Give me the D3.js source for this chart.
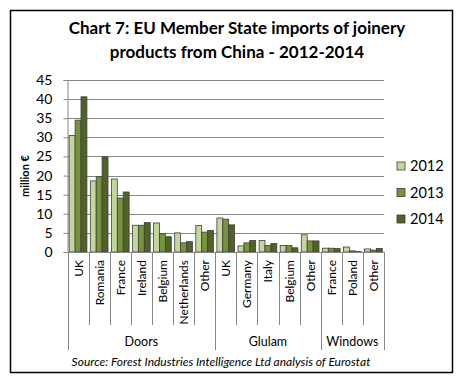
<!DOCTYPE html>
<html><head><meta charset="utf-8">
<script src="https://cdn.jsdelivr.net/npm/d3@7"></script>
<style>body{margin:0;background:#fff}svg{display:block}text{font-family:Lato,"Open Sans",sans-serif;fill:#000}</style>
</head><body>
<svg id="c" width="465" height="382"></svg>
<script>
const categories = ["UK","Romania","France","Ireland","Belgium","Netherlands","Other","UK","Germany","Italy","Belgium","Other","France","Poland","Other"];
const groups = [{name:"Doors",start:0,end:7},{name:"Glulam",start:7,end:12},{name:"Windows",start:12,end:15}];
const years = ["2012","2013","2014"];
const v2012 = [30.5,18.6,19.1,7.0,7.6,5.0,6.9,8.9,1.6,3.0,1.7,4.5,1.0,1.3,0.8];
const v2013 = [34.5,19.7,14.1,7.0,4.8,2.4,5.2,8.6,2.4,1.7,1.7,2.9,1.0,0.3,0.5];
const v2014 = [40.6,24.9,15.7,7.7,4.0,2.7,5.6,7.1,3.0,2.2,1.1,2.9,0.9,0.1,0.9];
const yTicks = [0,5,10,15,20,25,30,35,40,45];
const colors = ["#c3d69b","#77933c","#4f6228"];
const series = [v2012,v2013,v2014];

const svg = d3.select("#c");
svg.append("rect").attr("x",10.5).attr("y",10.5).attr("width",442).attr("height",362)
  .attr("fill","#fff").attr("stroke","#000").attr("stroke-width",1.5);

svg.append("text").attr("x",237).attr("y",34).attr("text-anchor","middle")
  .style("font-weight","bold").style("font-size","17px").text("Chart 7: EU Member State imports of joinery");
svg.append("text").attr("x",237).attr("y",58).attr("text-anchor","middle")
  .style("font-weight","bold").style("font-size","17px").text("products from China - 2012-2014");

const L=67.5,R=384,T=80,B=252;
const x = d3.scaleBand().domain(d3.range(categories.length)).range([L,R]).paddingInner(0.16).paddingOuter(0.08);
const step = (R-L)/categories.length;
const xs = d3.scaleBand().domain(years).range([0,x.bandwidth()]);
const y = d3.scaleLinear().domain([0,45]).range([B,T]);

// gridlines
svg.append("g").selectAll("line").data(yTicks.filter(d=>d>0)).join("line")
  .attr("x1",L).attr("x2",R).attr("y1",d=>Math.round(y(d))+0.5).attr("y2",d=>Math.round(y(d))+0.5)
  .attr("stroke","#868686").attr("stroke-width",1);

// y axis
const ya = svg.append("g").attr("transform",`translate(${L},0)`)
  .call(d3.axisLeft(y).tickValues(yTicks).tickSize(4).tickPadding(11));
ya.select(".domain").attr("stroke","#868686");
ya.selectAll(".tick line").attr("stroke","#868686");
ya.selectAll(".tick text").style("font-size","14px").style("font-family","Lato,sans-serif");

svg.append("text").attr("transform","translate(29,176) rotate(-90)").attr("text-anchor","middle")
  .style("font-weight","bold").style("font-size","11px").text("million €");

// bars
series.forEach((s,i)=>{
  svg.append("g").selectAll("rect").data(s).join("rect")
    .attr("x",(d,j)=>x(j)+xs(years[i]))
    .attr("y",d=>y(d)).attr("width",xs.bandwidth()).attr("height",d=>B-y(d))
    .attr("fill",colors[i]).attr("stroke","#3f3f3f").attr("stroke-width",0.8);
});

// x axis line
svg.append("line").attr("x1",L).attr("x2",R).attr("y1",B+0.5).attr("y2",B+0.5).attr("stroke","#868686");

// category separators
const sepG = svg.append("g");
for(let k=0;k<=categories.length;k++){
  const isGroup = groups.some(g=>g.start===k||g.end===k);
  const xx = Math.round(L+k*step)+0.5;
  sepG.append("line").attr("x1",xx).attr("x2",xx).attr("y1",B).attr("y2",isGroup?350:325)
    .attr("stroke","#868686");
}
// category labels
svg.append("g").selectAll("text").data(categories).join("text")
  .attr("transform",(d,j)=>`translate(${L+(j+0.5)*step+4.5},260) rotate(-90)`)
  .attr("text-anchor","end").style("font-size","12px").text(d=>d);

// group labels
svg.append("g").selectAll("text").data(groups).join("text")
  .attr("x",g=>L+(g.start+g.end)/2*step).attr("y",346).attr("text-anchor","middle")
  .style("font-size","12.5px").text(g=>g.name);

// source
svg.append("text").attr("x",221).attr("y",366).attr("text-anchor","middle")
  .style("font-style","italic").style("font-size","12px")
  .text("Source: Forest Industries Intelligence Ltd analysis of Eurostat");

// legend
const lg = svg.append("g").selectAll("g").data(years).join("g")
  .attr("transform",(d,i)=>`translate(397,${166+i*26.5})`);
lg.append("rect").attr("x",0).attr("y",-4).attr("width",8).attr("height",8)
  .attr("fill",(d,i)=>colors[i]).attr("stroke","#3f3f3f").attr("stroke-width",0.8);
lg.append("text").attr("x",13).attr("y",5).style("font-size","14.5px").text(d=>d);
</script>
</body></html>
